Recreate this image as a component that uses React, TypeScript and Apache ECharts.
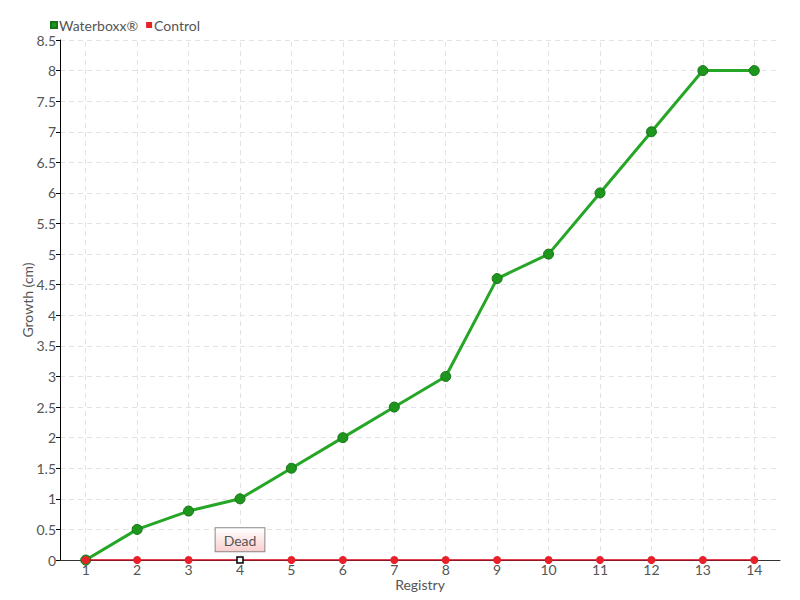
import React, { useEffect, useRef } from "react";
import * as echarts from "echarts";

const categories = ["1", "2", "3", "4", "5", "6", "7", "8", "9", "10", "11", "12", "13", "14"];
const waterboxx = [0, 0.5, 0.8, 1, 1.5, 2, 2.5, 3, 4.6, 5, 6, 7, 8, 8];
const control = [0, 0, 0, 0, 0, 0, 0, 0, 0, 0, 0, 0, 0, 0];
const deadIndex = 3;
const yTicks = ["0", "0.5", "1", "1.5", "2", "2.5", "3", "3.5", "4", "4.5", "5", "5.5", "6", "6.5", "7", "7.5", "8", "8.5"];

const FONT = "Lato, 'Open Sans', sans-serif";
const GRID_COLOR = "#e3e3e3";

export default function App() {
  const ref = useRef<HTMLDivElement>(null);
  useEffect(() => {
    if (!ref.current) return;
    const chart = echarts.init(ref.current, null, { renderer: "svg" });
    const controlData = control.map((v, i) =>
      i === deadIndex
        ? {
            value: v,
            symbol: "rect",
            symbolSize: 6,
            itemStyle: { color: "#ffffff", borderColor: "#000000", borderWidth: 1.5 },
            label: {
              show: true,
              formatter: "Dead",
              position: "top",
              distance: 5,
              color: "#555",
              fontFamily: FONT,
              fontSize: 14,
              backgroundColor: new echarts.graphic.LinearGradient(0, 0, 0, 1, [
                { offset: 0, color: "#ffffff" },
                { offset: 1, color: "#fbcfcf" },
              ]),
              borderColor: "#888",
              borderWidth: 1,
              padding: [5, 8, 4, 8],
            },
          }
        : v
    );
    chart.setOption({
      animation: false,
      textStyle: { fontFamily: FONT },
      legend: {
        left: 45,
        top: 13,
        itemWidth: 6,
        itemHeight: 6,
        itemGap: 8,
        icon: "rect",
        textStyle: { color: "#555", fontSize: 14, fontFamily: FONT, padding: [0, 0, 0, -3] },
        data: ["Waterboxx®", "Control"],
      },
      grid: { left: 60, right: 20, top: 40, bottom: 40 },
      xAxis: {
        type: "category",
        data: categories,
        boundaryGap: true,
        name: "Registry",
        nameLocation: "middle",
        nameGap: 17,
        nameMoveOverlap: false,
        nameTextStyle: { color: "#555", fontSize: 14, fontFamily: FONT },
        axisLine: { show: true, lineStyle: { color: "#333" } },
        axisTick: { show: false },
        axisLabel: { color: "#555", fontSize: 14, fontFamily: FONT, margin: 2, interval: 0 },
        splitLine: { show: false },
      },
      yAxis: {
        type: "value",
        min: 0,
        max: 8.5,
        interval: 0.5,
        name: "Growth (cm)",
        nameLocation: "middle",
        nameGap: 26,
        nameMoveOverlap: false,
        nameTextStyle: { color: "#555", fontSize: 14, fontFamily: FONT },
        axisLine: { show: true, lineStyle: { color: "#000" } },
        axisTick: { show: true, length: 4, lineStyle: { color: "#000" } },
        axisLabel: {
          color: "#555",
          fontSize: 14,
          fontFamily: FONT,
          margin: 4,
          formatter: (v: number) => yTicks[Math.round(v * 2)] ?? String(v),
        },
        splitLine: { show: true, lineStyle: { color: GRID_COLOR, type: [5, 4] } },
      },
      series: [
        {
          name: "grid-v",
          type: "line",
          data: [],
          silent: true,
          z: 1,
          markLine: {
            silent: true,
            z: 1,
            symbol: "none",
            label: { show: false },
            lineStyle: { color: GRID_COLOR, type: [5, 4], width: 1 },
            emphasis: { disabled: true },
            data: categories.map((c) => ({ xAxis: c })),
          },
        },
        {
          name: "Waterboxx®",
          type: "line",
          data: waterboxx,
          color: "#1f9a1f",
          lineStyle: { width: 3, color: "#26a626" },
          symbol: "circle",
          symbolSize: 10,
          itemStyle: { color: "#1e961e", borderColor: "#157515", borderWidth: 1 },
          z: 3,
        },
        {
          name: "Control",
          type: "line",
          data: controlData,
          color: "#e8202a",
          lineStyle: { width: 1.5, color: "#d8001a" },
          symbol: "circle",
          symbolSize: 8,
          itemStyle: { color: "#e8202a" },
          z: 4,
        },
      ],
    });
    return () => chart.dispose();
  }, []);
  return <div ref={ref} style={{ width: 800, height: 600, position: "absolute", left: 0, top: 0 }} />;
}
